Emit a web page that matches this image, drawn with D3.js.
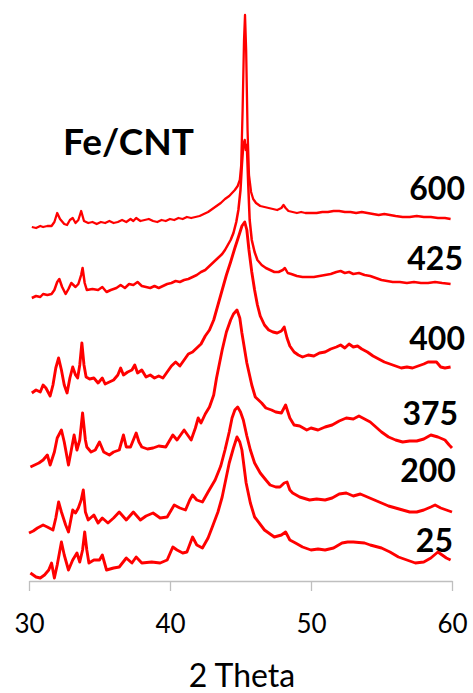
<!DOCTYPE html>
<html>
<head>
<meta charset="utf-8">
<script src="https://cdn.jsdelivr.net/npm/d3@7"></script>
<style>
  html, body { margin: 0; padding: 0; background: #fff; }
  svg { display: block; }
</style>
</head>
<body>
<svg id="chart" width="473" height="693"></svg>
<script>
// XRD patterns of Fe/CNT after treatment at different temperatures.
// Each pattern is a list of [2θ (deg), intensity (a.u.)] readings;
// patterns are stacked with a vertical offset.
const temperatures = ["600", "425", "400", "375", "200", "25"];
const offsets = [351, 281, 183, 111, 46, 1];

const p600 = [[30.2,3],[30.5,2],[30.8,4],[31.0,3],[31.3,4],[31.6,4],[31.8,8],[32.0,17],[32.2,11],[32.5,6],[32.7,5],[32.9,10],[33.1,12],[33.3,7],[33.5,10],[33.7,19],[33.9,9],[34.2,7],[34.5,8],[34.8,6],[35.1,8],[35.4,7],[35.7,9],[36.0,7],[36.3,8],[36.6,10],[36.9,8],[37.2,11],[37.4,9],[37.6,12],[37.9,9],[38.2,10],[38.5,11],[38.8,9],[39.1,8],[39.4,10],[39.7,9],[40.0,11],[40.3,10],[40.6,12],[40.9,11],[41.2,13],[41.5,12],[41.8,13],[42.1,14],[42.4,16],[42.7,18],[43.0,21],[43.3,24],[43.6,27],[43.9,31],[44.2,34],[44.4,37],[44.6,40],[44.8,44],[44.95,50],[45.05,65],[45.15,120],[45.25,190],[45.32,215],[45.4,180],[45.5,100],[45.6,55],[45.75,38],[45.9,31],[46.1,27],[46.4,24],[46.7,23],[47.0,22],[47.3,21],[47.6,20],[47.9,22],[48.05,25],[48.2,22],[48.4,19],[48.7,18],[49.0,17],[49.3,18],[49.6,17],[50.0,17],[50.4,17],[50.8,18],[51.2,18],[51.6,19],[52.0,19],[52.4,18],[52.8,18],[53.2,17],[53.6,18],[54.0,17],[54.4,16],[54.8,15],[55.2,16],[55.6,15],[56.0,14],[56.5,13],[57.0,13],[57.5,14],[58.0,13],[58.5,13],[59.0,12],[59.5,12],[59.9,11]];

const p425 = [[30.2,2],[30.5,4],[30.8,3],[31.0,6],[31.3,5],[31.6,6],[31.8,10],[32.0,18],[32.15,21],[32.35,13],[32.6,6],[32.8,11],[33.0,17],[33.3,13],[33.5,16],[33.7,25],[33.8,32],[33.95,17],[34.1,10],[34.5,11],[34.9,10],[35.2,13],[35.5,8],[35.8,10],[36.2,12],[36.5,15],[36.8,12],[37.1,16],[37.4,15],[37.7,18],[38.0,14],[38.3,13],[38.6,12],[38.9,14],[39.2,12],[39.5,14],[39.8,16],[40.1,17],[40.4,19],[40.7,18],[41.0,20],[41.3,21],[41.6,23],[41.9,25],[42.2,28],[42.5,30],[42.8,34],[43.1,38],[43.4,42],[43.7,46],[43.9,50],[44.1,55],[44.3,60],[44.5,67],[44.7,78],[44.85,90],[45.0,110],[45.1,135],[45.2,155],[45.3,160],[45.38,150],[45.45,155],[45.55,115],[45.65,80],[45.8,60],[46.0,48],[46.2,40],[46.5,35],[46.8,32],[47.1,30],[47.4,28],[47.7,28],[48.0,30],[48.15,32],[48.35,27],[48.6,26],[49.0,24],[49.4,23],[49.8,23],[50.2,23],[50.6,24],[51.0,25],[51.4,26],[51.8,28],[52.1,29],[52.4,27],[52.7,28],[53.0,26],[53.4,27],[53.8,25],[54.2,24],[54.6,22],[55.0,20],[55.4,19],[55.8,18],[56.3,18],[56.8,17],[57.3,18],[57.8,17],[58.3,17],[58.8,18],[59.3,17],[59.9,16]];

const p400 = [[30.2,5],[30.5,8],[30.8,6],[31.0,13],[31.2,10],[31.5,2],[31.7,13],[31.9,30],[32.1,40],[32.3,28],[32.5,13],[32.7,5],[32.9,20],[33.1,31],[33.3,23],[33.45,20],[33.6,33],[33.75,55],[33.9,33],[34.05,21],[34.3,19],[34.6,20],[34.9,15],[35.2,20],[35.4,14],[35.7,16],[36.0,18],[36.3,23],[36.5,30],[36.7,23],[37.0,26],[37.3,28],[37.5,33],[37.7,25],[38.0,28],[38.3,21],[38.6,23],[38.9,20],[39.2,22],[39.5,20],[39.8,26],[40.1,32],[40.4,36],[40.7,32],[41.0,38],[41.3,44],[41.6,46],[41.9,50],[42.2,54],[42.5,62],[42.8,68],[43.1,78],[43.4,93],[43.7,108],[44.0,123],[44.3,136],[44.6,150],[44.9,163],[45.1,172],[45.3,176],[45.45,168],[45.6,148],[45.8,126],[46.0,108],[46.2,93],[46.4,82],[46.7,73],[47.0,68],[47.3,66],[47.6,65],[47.9,67],[48.1,71],[48.3,60],[48.5,52],[48.8,46],[49.1,43],[49.4,41],[49.8,43],[50.2,42],[50.6,45],[51.0,46],[51.4,49],[51.8,51],[52.1,53],[52.4,50],[52.7,54],[53.0,51],[53.3,52],[53.6,49],[54.0,46],[54.4,42],[54.8,39],[55.2,36],[55.6,34],[56.0,32],[56.4,30],[56.8,31],[57.2,30],[57.6,32],[58.0,34],[58.3,36],[58.6,36],[58.9,36],[59.2,31],[59.5,30],[59.9,31]];

const p375 = [[30.1,3],[30.4,5],[30.7,7],[31.0,10],[31.3,15],[31.5,5],[31.8,18],[32.0,32],[32.3,40],[32.5,28],[32.8,5],[33.0,20],[33.2,35],[33.4,20],[33.6,30],[33.8,57],[34.0,30],[34.1,23],[34.4,18],[34.7,20],[35.0,28],[35.3,18],[35.7,15],[36.0,18],[36.4,20],[36.7,35],[36.9,23],[37.2,23],[37.6,37],[37.8,28],[38.0,23],[38.4,21],[38.8,22],[39.2,24],[39.7,23],[40.2,35],[40.5,30],[40.8,36],[41.0,40],[41.3,34],[41.5,30],[41.8,42],[42.0,52],[42.2,47],[42.5,56],[42.8,63],[43.1,75],[43.3,92],[43.7,120],[44.0,138],[44.3,150],[44.5,156],[44.75,160],[44.95,152],[45.1,137],[45.45,107],[45.8,85],[46.05,73],[46.5,67],[46.8,62],[47.2,60],[47.5,58],[47.9,57],[48.2,65],[48.5,52],[48.8,45],[49.2,44],[49.7,40],[50.0,42],[50.5,40],[51.0,43],[51.5,45],[52.0,49],[52.5,52],[53.0,51],[53.4,54],[53.8,51],[54.2,48],[54.6,43],[55.0,38],[55.5,33],[56.0,30],[56.5,28],[57.0,29],[57.5,29],[58.0,31],[58.5,35],[59.0,33],[59.5,30],[59.8,25],[60.0,22]];

const p200 = [[30.0,2],[30.3,4],[30.6,7],[31.0,10],[31.3,8],[31.7,5],[31.9,17],[32.1,33],[32.3,23],[32.6,10],[32.8,3],[33.1,25],[33.3,22],[33.5,27],[33.7,35],[33.85,45],[34.0,23],[34.2,15],[34.6,20],[34.9,12],[35.2,17],[35.6,12],[36.0,17],[36.4,23],[36.9,15],[37.4,23],[37.9,15],[38.3,19],[38.8,22],[39.3,17],[39.8,18],[40.3,30],[40.7,27],[41.1,25],[41.4,35],[41.6,40],[41.9,35],[42.3,33],[42.7,43],[43.2,55],[43.6,69],[43.9,85],[44.2,103],[44.4,117],[44.6,125],[44.8,128],[45.0,123],[45.2,115],[45.45,99],[45.7,85],[46.0,72],[46.4,62],[46.8,55],[47.1,50],[47.5,48],[47.8,48],[48.1,52],[48.3,53],[48.5,45],[48.7,42],[49.2,38],[49.9,35],[50.4,36],[51.0,35],[51.5,37],[52.0,41],[52.5,42],[53.0,39],[53.5,41],[54.0,38],[54.5,35],[55.0,32],[55.5,29],[56.0,27],[56.5,25],[57.0,23],[57.5,23],[58.0,25],[58.5,28],[58.8,30],[59.2,27],[59.6,25],[60.0,23]];

const p25 = [[30.1,7],[30.5,3],[30.8,2],[31.1,5],[31.4,10],[31.6,17],[31.8,2],[32.0,15],[32.3,38],[32.5,25],[32.8,10],[33.1,20],[33.4,27],[33.6,18],[33.8,30],[33.95,48],[34.1,30],[34.25,17],[34.6,20],[35.0,20],[35.2,25],[35.5,10],[36.0,12],[36.4,13],[36.9,22],[37.3,17],[37.6,23],[38.0,17],[38.7,18],[39.3,17],[39.8,20],[40.2,33],[40.5,30],[40.9,27],[41.2,28],[41.6,43],[41.9,35],[42.3,32],[42.7,42],[43.0,53],[43.4,68],[43.7,83],[44.2,117],[44.5,132],[44.75,143],[44.95,138],[45.1,130],[45.4,97],[45.7,77],[46.0,63],[46.7,50],[47.4,43],[47.9,45],[48.2,48],[48.5,40],[48.9,37],[49.4,33],[50.0,30],[50.5,31],[51.0,30],[51.6,32],[52.2,37],[52.6,38],[53.0,38],[53.8,37],[54.2,35],[55.0,32],[55.6,28],[56.2,23],[57.4,17],[58.0,18],[58.5,22],[59.0,28],[59.3,25],[59.6,22],[59.9,20]];

const patterns = [p600, p425, p400, p375, p200, p25];

// Temperature label anchors in data space (2θ, intensity), right-aligned
const labelAnchors = [[60.92, 381], [60.78, 311], [60.92, 231], [60.43, 156], [60.28, 99], [60.07, 29]];

const xTicks = [30, 40, 50, 60];

const svg = d3.select("#chart");
const W = 473, H = 693;
svg.append("rect").attr("width", W).attr("height", H).attr("fill", "#fff");

const x = d3.scaleLinear().domain([30, 60]).range([29, 452]);
const y = d3.scaleLinear().domain([0, 566]).range([581, 15]);

const FONT = "Lato, 'Open Sans', 'Liberation Sans', sans-serif";

// x axis
const axis = d3.axisBottom(x)
  .tickValues(xTicks)
  .tickFormat(d3.format("d"))
  .tickSize(10)
  .tickSizeOuter(0)
  .tickPadding(24);

const gx = svg.append("g").attr("transform", "translate(0,581)").call(axis);
gx.select(".domain").attr("stroke", "#bfbfbf").attr("stroke-width", 1.3);
gx.selectAll(".tick line").attr("stroke", "#bfbfbf").attr("stroke-width", 1.3);
gx.selectAll(".tick text")
  .attr("fill", "#000")
  .style("font-family", FONT)
  .style("font-size", "26px");

svg.append("text")
  .attr("x", 242).attr("y", 687)
  .attr("text-anchor", "middle")
  .style("font-family", FONT)
  .style("font-size", "32px")
  .attr("fill", "#000")
  .text("2 Theta");

// stacked patterns; noisier low-temperature scans read as a thicker trace
const strokeWidths = [2.3, 2.5, 2.9, 2.9, 2.9, 2.9];
const line = d3.line()
  .x(d => x(d[0]))
  .y(d => d[1]);

patterns.forEach((p, i) => {
  const pts = p.map(d => [d[0], y(d[1] + offsets[i])]);
  svg.append("path")
    .datum(pts)
    .attr("fill", "none")
    .attr("stroke", "#ff0000")
    .attr("stroke-width", strokeWidths[i])
    .attr("stroke-linejoin", "round")
    .attr("d", line);
});

// temperature labels
svg.selectAll("text.temp")
  .data(temperatures)
  .join("text")
  .attr("class", "temp")
  .attr("x", (d, i) => x(labelAnchors[i][0]))
  .attr("y", (d, i) => y(labelAnchors[i][1]))
  .attr("text-anchor", "end")
  .style("font-family", FONT)
  .style("font-weight", "bold")
  .style("font-size", "32px")
  .attr("fill", "#000")
  .text(d => d);

svg.append("text")
  .attr("x", 63).attr("y", 155)
  .style("font-family", FONT)
  .style("font-weight", "bold")
  .style("font-size", "37px")
  .attr("fill", "#000")
  .text("Fe/CNT");
</script>
</body>
</html>
